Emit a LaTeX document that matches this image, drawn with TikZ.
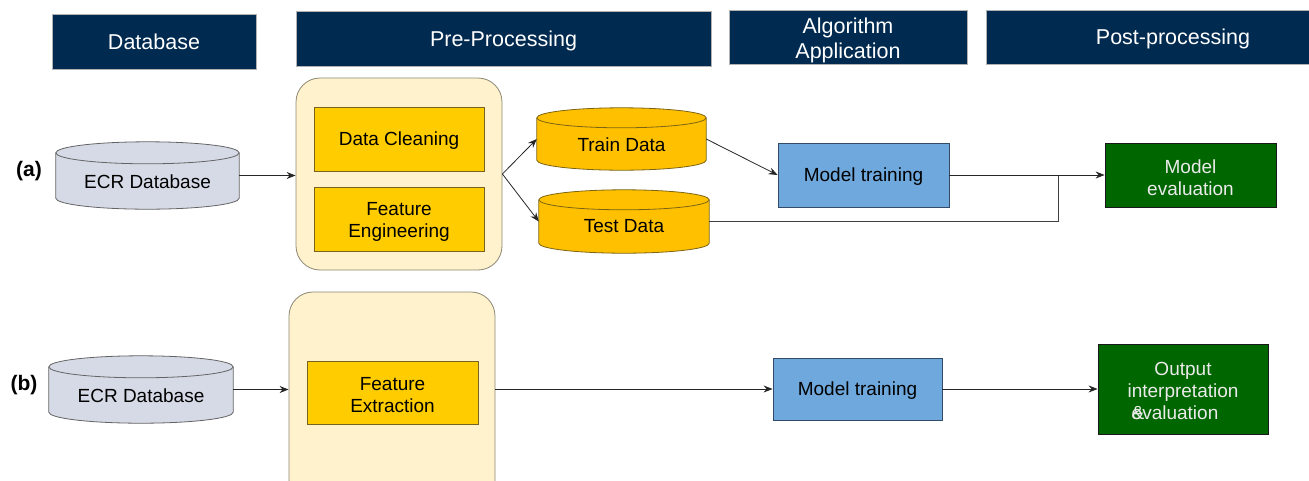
\documentclass[tikz,border=0pt]{standalone}
\usepackage{fontspec}
\setmainfont{Liberation Sans}
\usetikzlibrary{arrows.meta,calc,backgrounds}

\definecolor{hdr}{RGB}{0,42,80}
\definecolor{dbfill}{RGB}{213,218,230}
\definecolor{dbdraw}{RGB}{100,100,100}
\definecolor{gold}{RGB}{255,192,0}
\definecolor{golddraw}{RGB}{125,100,20}
\definecolor{boxfill}{RGB}{255,204,0}
\definecolor{boxdraw}{RGB}{120,100,30}
\definecolor{grpfill}{RGB}{255,242,204}
\definecolor{grpdraw}{RGB}{140,135,115}
\definecolor{mtfill}{RGB}{111,168,220}
\definecolor{mtdraw}{RGB}{50,75,105}
\definecolor{evfill}{RGB}{0,102,0}
\definecolor{evdraw}{RGB}{25,25,25}

\newcommand\hdrfont{\fontsize{21.5}{25}\selectfont}
\newcommand\bodyfont{\fontsize{19}{22}\selectfont}

% cylinder drawing behind a named node: name, fill, draw, end radius
\newcommand\cylshape[4]{%
  \filldraw[fill=#2, draw=#3, line width=0.8pt]
    let \p1=(#1.north west), \p2=(#1.south east) in
    (\x1,\y1-#4) -- (\x1,\y2+#4)
    arc[start angle=180,end angle=360,x radius={(\x2-\x1)/2},y radius=#4]
    -- (\x2,\y1-#4)
    arc[start angle=0,end angle=180,x radius={(\x2-\x1)/2},y radius=#4]
    -- cycle;
  \draw[draw=#3, line width=0.8pt]
    let \p1=(#1.north west), \p2=(#1.south east) in
    (\x1,\y1-#4)
    arc[start angle=180,end angle=360,x radius={(\x2-\x1)/2},y radius=#4];
}

\begin{document}
\begin{tikzpicture}[x=1pt,y=-1pt,
  hdrbox/.style={fill=hdr, draw=gray!60, line width=0.6pt, text=white, font=\hdrfont, inner sep=0pt, align=center, text depth=0pt},
  grp/.style={fill=grpfill, draw=grpdraw, line width=0.8pt, rounded corners=24pt, inner sep=0pt},
  ybox/.style={fill=boxfill, draw=boxdraw, line width=0.8pt, font=\bodyfont, inner sep=0pt, align=center, text depth=0pt},
  mtbox/.style={fill=mtfill, draw=mtdraw, line width=0.8pt, font=\bodyfont, inner sep=0pt, align=center, text depth=0pt},
  evbox/.style={fill=evfill, draw=evdraw, line width=0.8pt, font=\bodyfont, text=white!92!black, inner sep=0pt, align=center},
  lbl/.style={font=\bodyfont, align=center, inner sep=0pt, yshift=-2.5pt},
  cylnode/.style={inner sep=0pt, draw=none},
  cyllabel/.style={font=\bodyfont, yshift=-6pt},
  tag/.style={font=\fontsize{21}{24}\selectfont\bfseries},
  arr/.style={-{Stealth[length=9pt,width=7pt,inset=3pt]}, line width=0.8pt, draw=black!85},
  plain/.style={line width=0.8pt, draw=black!75}
]
\useasboundingbox (0,0) rectangle (1309,480);

% header row
\node[hdrbox, minimum width=204pt, minimum height=55pt] (h1) at (154,41.5) {Database};
\node[hdrbox, minimum width=415pt, minimum height=55pt] (h2) at (503.5,38.5) {Pre-Processing};
\node[hdrbox, minimum width=238pt, minimum height=54pt,
      label={[lbl,font=\hdrfont,text=white,yshift=-1pt]center:Algorithm\\Application}] (h3) at (848,37) {};
\node[hdrbox, minimum width=374pt, minimum height=54pt, text width=374pt] (h4) at (1173,37) {Post-processing};

% row (a)
\node[tag] (la) at (29,171) {(a)};
\node[cylnode, minimum width=183pt, minimum height=67pt,
      label={[cyllabel]center:ECR Database}] (ecra) at (147.5,175.5) {};
\node[grp, minimum width=206pt, minimum height=192pt] (gra) at (399,174) {};
\node[ybox, minimum width=170pt, minimum height=64pt] (clean) at (399,139) {Data Cleaning};
\node[ybox, minimum width=170pt, minimum height=64pt,
      label={[lbl]center:Feature\\Engineering}] (feng) at (399,219) {};
\node[cylnode, minimum width=169pt, minimum height=62pt,
      label={[cyllabel]center:Train Data}] (train) at (621.5,139) {};
\node[cylnode, minimum width=170pt, minimum height=63pt,
      label={[cyllabel,yshift=1pt]center:Test Data}] (test) at (624,221.5) {};
\node[mtbox, minimum width=171pt, minimum height=64pt] (mta) at (863.5,175) {Model training};
\node[evbox, minimum width=171pt, minimum height=64pt,
      label={[lbl,text=white!92!black]center:Model\\evaluation}] (eva) at (1190.5,175) {};
\coordinate (join) at (1058,175);

% row (b)
\node[tag] (lb) at (24,385) {(b)};
\node[cylnode, minimum width=184pt, minimum height=67pt,
      label={[cyllabel]center:ECR Database}] (ecrb) at (141,389.5) {};
\node[grp, minimum width=206pt, minimum height=212pt] (grb) at (392,398) {};
\node[ybox, minimum width=171pt, minimum height=63pt,
      label={[lbl]center:Feature\\Extraction}] (fext) at (392.5,392.5) {};
\node[mtbox, minimum width=169pt, minimum height=62pt] (mtb) at (857.5,389) {Model training};
\node[evbox, minimum width=170pt, minimum height=90pt,
      label={[lbl,text=white!92!black,yshift=1pt]center:Output\\interpretation\\\rlap{\&}evaluation\hspace*{16pt}}] (outb) at (1183,389) {};

% cylinders behind their labels
\begin{scope}[on background layer]
  \cylshape{ecra}{dbfill}{dbdraw}{11pt}
  \cylshape{ecrb}{dbfill}{dbdraw}{11pt}
  \cylshape{train}{gold}{golddraw}{10pt}
  \cylshape{test}{gold}{golddraw}{10pt}
\end{scope}

% connectors (a)
\draw[arr] (ecra.east) -- (ecra.east -| gra.west);
\draw[arr] (gra.east) -- (train.west);
\draw[arr] (gra.east) -- (test.west);
\draw[arr] (train.east) -- (mta.west);
\draw[plain] (test.east) -| (join);
\draw[arr] (mta.east) -- (eva.west);

% connectors (b)
\draw[arr] (ecrb.east) -- (ecrb.east -| grb.west);
\draw[arr] (mtb.west -| grb.east) -- (mtb.west);
\draw[arr] (mtb.east) -- (outb.west);
\end{tikzpicture}
\end{document}
